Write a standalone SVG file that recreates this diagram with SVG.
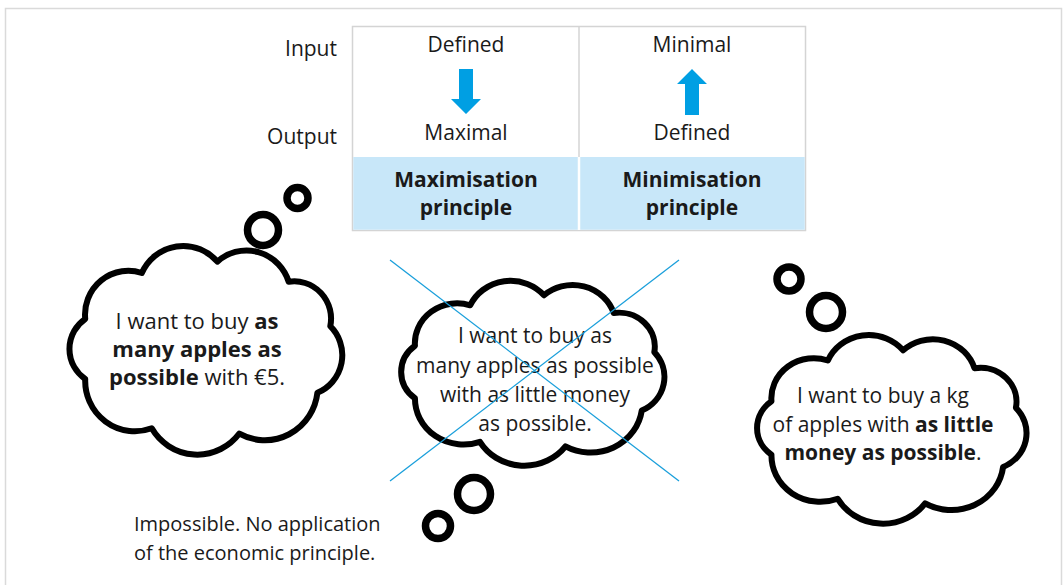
<svg xmlns="http://www.w3.org/2000/svg" width="1063" height="585" viewBox="0 0 1063 585">
<style>
  .t { font-family: "Open Sans", "Noto Sans", "Liberation Sans", sans-serif; font-size: 21px; fill: #1a1a1a; }
  .c { text-anchor: middle; }
  .r { text-anchor: end; }
  .b { font-weight: bold; }
  .cloud { fill: #ffffff; stroke: #000000; stroke-width: 6; stroke-linejoin: round; vector-effect: non-scaling-stroke; }
  .ring { fill: none; stroke: #000000; stroke-width: 7.5; }
  .arrow { fill: #009fe3; }
  .xline { stroke: #1a9fdb; stroke-width: 1.3; fill: none; }
</style>
<rect width="1063" height="585" fill="#ffffff"/>
<path d="M5.5 585 V8.5 H1061.5 V585" fill="none" stroke="#dadada" stroke-width="1.5"/>

<g id="table">
  <rect x="352.5" y="26.5" width="453" height="204" fill="#ffffff" stroke="#d4d4d4" stroke-width="1.5"/>
  <rect x="353.3" y="157" width="451.4" height="72.7" fill="#c8e7f9"/>
  <line x1="579" y1="27" x2="579" y2="157" stroke="#d4d4d4" stroke-width="1.5"/>
  <line x1="579" y1="157" x2="579" y2="230" stroke="#ffffff" stroke-width="2.5"/>
  <text class="t r" x="337" y="56">Input</text>
  <text class="t r" x="337" y="144">Output</text>
  <text class="t c" x="466" y="52">Defined</text>
  <text class="t c" x="466" y="140">Maximal</text>
  <text class="t c" x="692" y="52">Minimal</text>
  <text class="t c" x="692" y="140">Defined</text>
  <path class="arrow" d="M459 69 H473 V99 H481 L466 114 L451 99 H459 Z"/>
  <path class="arrow" d="M692 69 L707 84 H699 V115 H685 V84 H677 Z"/>
  <text class="t c b" x="466" y="187">Maximisation</text>
  <text class="t c b" x="466" y="215">principle</text>
  <text class="t c b" x="692" y="187">Minimisation</text>
  <text class="t c b" x="692" y="215">principle</text>
</g>

<g id="cloud-max">
  <circle class="ring" cx="297.5" cy="198" r="10.5"/>
  <circle class="ring" cx="263" cy="230" r="15.5"/>
  <path class="cloud" transform="translate(205 350) scale(1.08 1.095) translate(-205 -350)" d="M94.1 321.6 A40 40 0 0 1 146.5 279.7 A42 42 0 0 1 216.4 269.3 A41 41 0 0 1 282.5 287.7 A34 34 0 0 1 321 328.3 A37 37 0 0 1 309.1 389 A49 49 0 0 1 236.8 426.3 A49 49 0 0 1 155.7 421.5 A46 46 0 0 1 94.1 376.4 A33 33 0 0 1 94.1 321.6 Z"/>
  <text class="t c" x="197" y="329" style="font-size:22px">I want to buy <tspan class="b">as</tspan></text>
  <text class="t c b" x="197" y="357" style="font-size:22px">many apples as</text>
  <text class="t c" x="197" y="385" style="font-size:22px"><tspan class="b">possible</tspan> with €5.</text>
</g>

<g id="cloud-impossible">
  <circle class="ring" cx="474" cy="494" r="16.5"/>
  <circle class="ring" cx="438" cy="526" r="12.5"/>
  <path class="cloud" transform="translate(533 374) scale(1.055 1) translate(-533 -376)" d="M421.1 347.7 A40 40 0 0 1 473.5 307.3 A42 42 0 0 1 543.4 297.3 A41 41 0 0 1 609.5 315 A34 34 0 0 1 648 354.1 A37 37 0 0 1 636.1 412.5 A49 49 0 0 1 563.8 448.4 A49 49 0 0 1 482.7 443.8 A46 46 0 0 1 421.1 400.3 A33 33 0 0 1 421.1 347.7 Z"/>
  <text class="t c" x="535" y="343">I want to buy as</text>
  <text class="t c" x="535" y="373">many apples as possible</text>
  <text class="t c" x="535" y="402">with as little money</text>
  <text class="t c" x="535" y="431">as possible.</text>
</g>

<g id="cross">
  <line class="xline" x1="390" y1="260" x2="679" y2="481"/>
  <line class="xline" x1="679" y1="260" x2="390" y2="481"/>
</g>

<g id="note">
  <text class="t" x="134" y="531" style="font-size:20px">Impossible. No application</text>
  <text class="t" x="134" y="560" style="font-size:20px">of the economic principle.</text>
</g>

<g id="cloud-min">
  <circle class="ring" cx="789" cy="279" r="12"/>
  <circle class="ring" cx="826" cy="312" r="16.5"/>
  <path class="cloud" transform="translate(892 428) scale(1.06 1) translate(-890 -428)" d="M776.3 401.3 A40 40 0 0 1 829.5 360.5 A42 42 0 0 1 900.5 350.3 A41 41 0 0 1 967.8 368.2 A34 34 0 0 1 1006.9 407.8 A37 37 0 0 1 994.8 467 A49 49 0 0 1 921.3 503.3 A49 49 0 0 1 838.8 498.7 A46 46 0 0 1 776.3 454.7 A33 33 0 0 1 776.3 401.3 Z"/>
  <text class="t c" x="883" y="403">I want to buy a kg</text>
  <text class="t c" x="883" y="432">of apples with <tspan class="b">as little</tspan></text>
  <text class="t c" x="883" y="460"><tspan class="b">money as possible</tspan>.</text>
</g>
</svg>
